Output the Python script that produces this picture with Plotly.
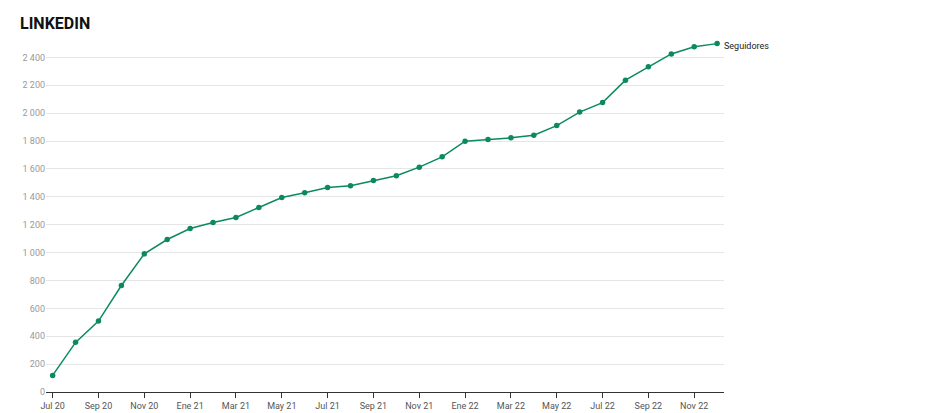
import plotly.graph_objects as go

months = ["Jul 20", "Ago 20", "Sep 20", "Oct 20", "Nov 20", "Dic 20",
          "Ene 21", "Feb 21", "Mar 21", "Abr 21", "May 21", "Jun 21",
          "Jul 21", "Ago 21", "Sep 21", "Oct 21", "Nov 21", "Dic 21",
          "Ene 22", "Feb 22", "Mar 22", "Abr 22", "May 22", "Jun 22",
          "Jul 22", "Ago 22", "Sep 22", "Oct 22", "Nov 22", "Dic 22"]
seguidores = [119, 356, 509, 764, 991, 1094,
              1173, 1216, 1252, 1323, 1395, 1429,
              1467, 1479, 1517, 1551, 1613, 1687,
              1799, 1811, 1823, 1842, 1911, 2008,
              2076, 2237, 2334, 2425, 2477, 2499]
x_ticks = ["Jul 20", "Sep 20", "Nov 20", "Ene 21", "Mar 21", "May 21", "Jul 21",
           "Sep 21", "Nov 21", "Ene 22", "Mar 22", "May 22", "Jul 22", "Sep 22", "Nov 22"]
y_ticks = [0, 200, 400, 600, 800, 1000, 1200, 1400, 1600, 1800, 2000, 2200, 2400]
series_name = "Seguidores"
title = "LINKEDIN"

green = "#0b8a5f"

# The page body has an 8px margin, so the figure is drawn at (8, 8)
W, H = 938, 405

fig = go.Figure()
fig.add_trace(go.Scatter(
    x=months, y=seguidores, mode="lines+markers", name=series_name,
    line=dict(color=green, width=1.5),
    marker=dict(color=green, size=5.5),
    cliponaxis=False,
))

fig.add_annotation(
    x=months[-1], y=seguidores[-1], text=series_name, showarrow=False,
    xanchor="left", yanchor="middle", xshift=5, yshift=-2,
    font=dict(family="Roboto", size=9, color="#222"),
)

fig.update_layout(
    width=W, height=H,
    margin=dict(l=38, r=222, t=32, b=21),
    paper_bgcolor="white", plot_bgcolor="white",
    showlegend=False,
    separators=", ",
    font=dict(family="Roboto"),
    title=dict(text="<b>" + title + "</b>", xref="container", yref="container",
               x=12/W, y=1 - 15/H, xanchor="left", yanchor="middle",
               font=dict(family="Roboto", size=16, color="#111")),
)
fig.update_xaxes(
    type="category", categoryorder="array", categoryarray=months,
    range=[-0.29, 29.3], automargin=False,
    tickvals=x_ticks, ticktext=x_ticks,
    showgrid=False, showline=True, linecolor="#333", linewidth=1,
    ticks="outside", ticklen=5, tickcolor="#333",
    tickfont=dict(family="Roboto", size=9, color="#555"),
    zeroline=False,
)
fig.update_yaxes(
    range=[0, 2525], tickvals=y_ticks, tickformat=",d", automargin=False,
    showgrid=True, gridcolor="#e6e6e6", gridwidth=1,
    showline=False, zeroline=False, ticks="",
    tickfont=dict(family="Roboto", size=9, color="#999"),
)

fig.write_html("out.html")
